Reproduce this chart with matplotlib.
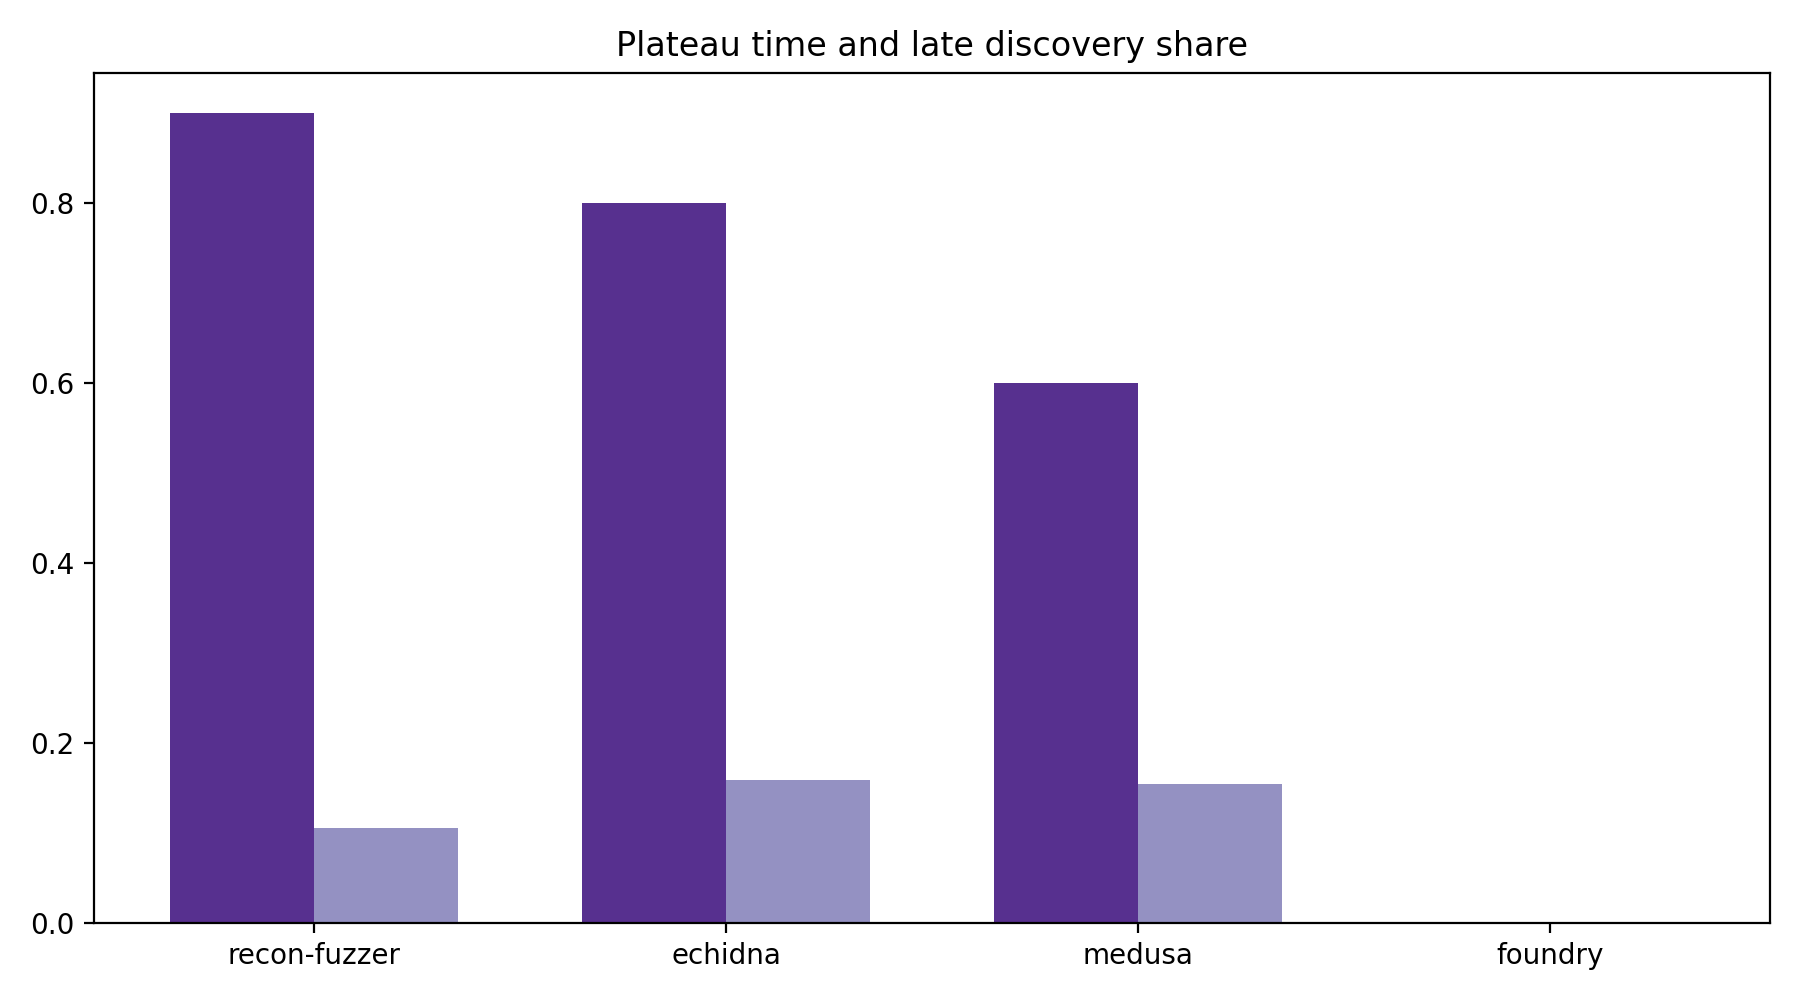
import matplotlib
matplotlib.use("Agg")
import matplotlib.pyplot as plt
import numpy as np

tools = ["recon-fuzzer", "echidna", "medusa", "foundry"]
plateau = [0.9, 0.8, 0.6, 0.0]
late_share = [0.105, 0.158, 0.154, 0.0]

fig, ax = plt.subplots(figsize=(9, 5), dpi=200)
x = np.arange(len(tools))
w = 0.35
ax.bar(x - w/2, plateau, w, color="#57308f")
ax.bar(x + w/2, late_share, w, color="#9491c2")
ax.set_xticks(x)
ax.set_xticklabels(tools)
ax.set_title("Plateau time and late discovery share")
fig.tight_layout()
fig.savefig("out.png")
